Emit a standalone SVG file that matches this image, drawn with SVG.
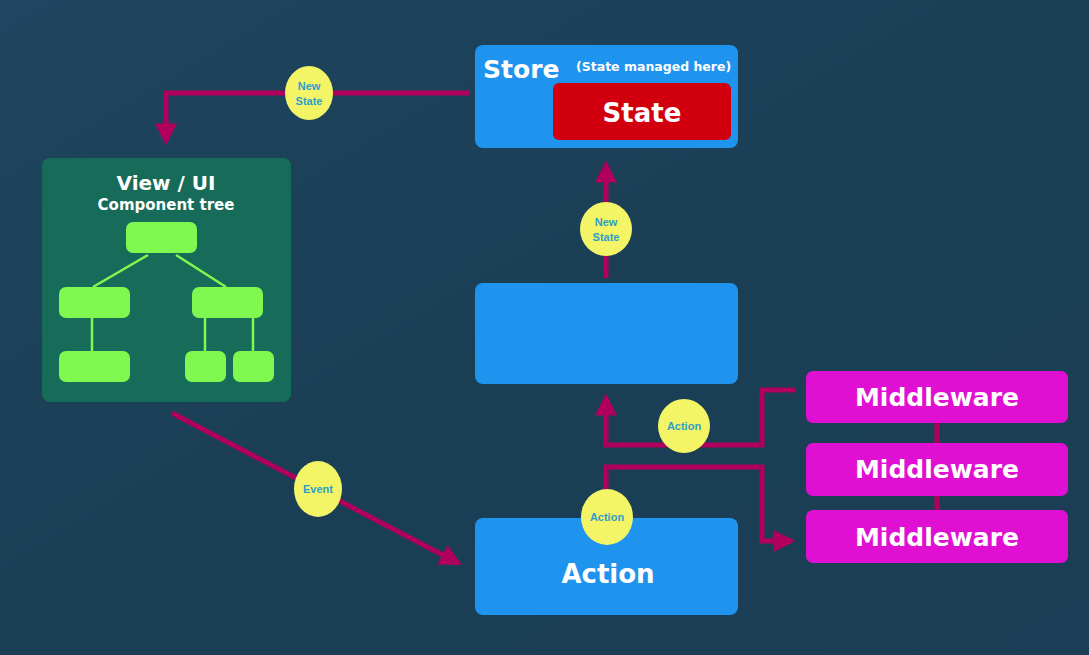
<svg xmlns="http://www.w3.org/2000/svg" width="1089" height="655" viewBox="0 0 1089 655">
<defs>
<linearGradient id="bg" x1="0" y1="0" x2="1" y2="1">
<stop offset="0" stop-color="#1f4560"/>
<stop offset="0.5" stop-color="#1a3f55"/>
<stop offset="1" stop-color="#1c3e56"/>
</linearGradient>
<marker id="ah" viewBox="0 0 10 10" refX="8" refY="5" markerWidth="4.4" markerHeight="4.4" orient="auto" markerUnits="strokeWidth">
<path d="M0,0 L10,5 L0,10 z" fill="#b0005c"/>
</marker>
<style>
.blue{fill:#1e94ef}
.mw{fill:#e010d2}
.leaf{fill:#7ff84f}
.tl{stroke:#7ff84f;stroke-width:2.5;fill:none}
.con{stroke:#b0005c;stroke-width:5;fill:none}
.badge{fill:#f3f567}
.bt{font-family:"Liberation Sans",Arial,sans-serif;font-weight:bold;font-size:11px;fill:#2e9ec8;text-anchor:middle}
.wt{font-family:"DejaVu Sans","Liberation Sans",sans-serif;font-weight:bold;fill:#ffffff}
</style>
</defs>
<rect width="1089" height="655" fill="url(#bg)"/>
<g id="connectors">
<path class="con" d="M469,93 H166 V141" marker-end="url(#ah)"/>
<path class="con" d="M606,278 V165" marker-end="url(#ah)"/>
<path class="con" d="M172,413 L458,563" marker-end="url(#ah)"/>
<path class="con" d="M796,390 H762 V445 H606 V398" marker-end="url(#ah)"/>
<path class="con" d="M606,516 V467 H762 V541 H791" marker-end="url(#ah)"/>
<line class="con" x1="937" y1="423" x2="937" y2="443" stroke-width="4"/>
<line class="con" x1="937" y1="496" x2="937" y2="510" stroke-width="4"/>
</g>
<g id="store">
<rect class="blue" x="475" y="45" width="263" height="103" rx="8"/>
<text class="wt" x="483" y="78" font-size="25">Store</text>
<text class="wt" x="576" y="71" font-size="12.5">(State managed here)</text>
</g>
<g id="state">
<rect x="553" y="83" width="178" height="57" rx="6" fill="#d2000f"/>
<text class="wt" x="642" y="122" font-size="26" text-anchor="middle">State</text>
</g>
<g id="view">
<rect x="42" y="158" width="249" height="244" rx="8" fill="#176b59"/>
<text class="wt" x="166" y="190" font-size="20" text-anchor="middle">View / UI</text>
<text class="wt" x="166" y="210" font-size="15" text-anchor="middle">Component tree</text>
<line class="tl" x1="148" y1="255" x2="93" y2="287"/>
<line class="tl" x1="176" y1="255" x2="226" y2="287"/>
<line class="tl" x1="92" y1="318" x2="92" y2="351"/>
<line class="tl" x1="205" y1="318" x2="205" y2="351"/>
<line class="tl" x1="253" y1="318" x2="253" y2="351"/>
<rect class="leaf" x="126" y="222" width="71" height="31" rx="7"/>
<rect class="leaf" x="59" y="287" width="71" height="31" rx="7"/>
<rect class="leaf" x="192" y="287" width="71" height="31" rx="7"/>
<rect class="leaf" x="59" y="351" width="71" height="31" rx="7"/>
<rect class="leaf" x="185" y="351" width="41" height="31" rx="7"/>
<rect class="leaf" x="233" y="351" width="41" height="31" rx="7"/>
</g>
<g id="reducer">
<rect class="blue" x="475" y="283" width="263" height="101" rx="8"/>
</g>
<g id="action">
<rect class="blue" x="475" y="518" width="263" height="97" rx="8"/>
<text class="wt" x="608" y="583" font-size="26" text-anchor="middle">Action</text>
</g>
<g id="middleware1">
<rect class="mw" x="806" y="371" width="262" height="52" rx="7"/>
<text class="wt" x="937" y="406" font-size="25" text-anchor="middle">Middleware</text>
</g>
<g id="middleware2">
<rect class="mw" x="806" y="443" width="262" height="53" rx="7"/>
<text class="wt" x="937" y="478" font-size="25" text-anchor="middle">Middleware</text>
</g>
<g id="middleware3">
<rect class="mw" x="806" y="510" width="262" height="53" rx="7"/>
<text class="wt" x="937" y="546" font-size="25" text-anchor="middle">Middleware</text>
</g>
<g id="badge-newstate-1">
<ellipse class="badge" cx="309" cy="93" rx="24" ry="27"/>
<text class="bt" x="309" y="90">New</text>
<text class="bt" x="309" y="105">State</text>
</g>
<g id="badge-newstate-2">
<ellipse class="badge" cx="606" cy="229" rx="26" ry="27"/>
<text class="bt" x="606" y="226">New</text>
<text class="bt" x="606" y="241">State</text>
</g>
<g id="badge-event">
<ellipse class="badge" cx="318" cy="489" rx="24" ry="28"/>
<text class="bt" x="318" y="493">Event</text>
</g>
<g id="badge-action-1">
<ellipse class="badge" cx="684" cy="426" rx="26" ry="27"/>
<text class="bt" x="684" y="430">Action</text>
</g>
<g id="badge-action-2">
<ellipse class="badge" cx="607" cy="517" rx="26" ry="28"/>
<text class="bt" x="607" y="521">Action</text>
</g>
</svg>
